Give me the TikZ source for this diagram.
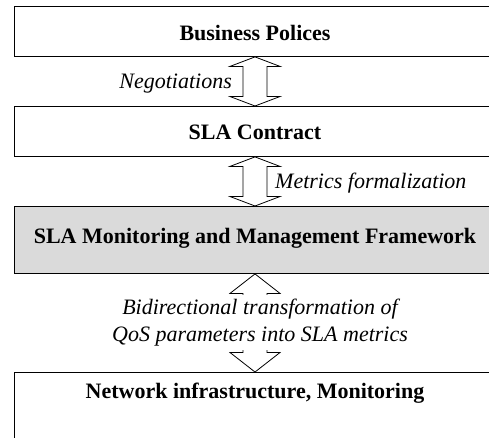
\documentclass[tikz,border=0pt]{standalone}
\usepackage{fontspec}
\setmainfont{Liberation Serif}
\usetikzlibrary{calc}
\definecolor{framegray}{HTML}{DADADA}

% double block arrow from tip #1 (top) to tip #2 (bottom), head length #3
\newcommand\blockarrow[3]{%
  \draw[arrowline] (#1) -- ++(25,#3) -- ++(-13,0) -- ($(#2)+(12,-#3)$) -- ++(13,0)
    -- (#2) -- ++(-25,-#3) -- ++(13,0) -- ($(#1)+(-12,#3)$) -- ++(-13,0) -- cycle;}

\begin{document}
\begin{tikzpicture}[x=1pt,y=-1pt,
  layerbox/.style={draw=black, line width=0.9pt, fill=white, anchor=north,
    minimum width=482pt, inner sep=0pt,
    font=\fontsize{22}{26}\selectfont\bfseries},
  arrowline/.style={draw=black, line width=0.8pt, fill=white, line join=miter},
  note/.style={font=\fontsize{22}{27}\selectfont\itshape, inner sep=0pt}]
\useasboundingbox (0,0) rectangle (489,437);
\clip (0,0) rectangle (489,437);

% layers (their right side runs past the frame)
\node[layerbox, text height=34pt, text depth=16pt] (pol) at (255,6) {Business Polices};
\node[layerbox, text height=33pt, text depth=17pt] (sla) at (255,106) {SLA Contract};
\node[layerbox, fill=framegray, text height=37pt, text depth=30pt] (fw) at (255,206)
  {SLA Monitoring and Management Framework};
\node[layerbox, text height=26pt, text depth=60pt] (net) at (255,372)
  {Network infrastructure, Monitoring};

% block arrows between the layers
\blockarrow{pol.south}{sla.north}{9.5}
\blockarrow{sla.south}{fw.north}{9.5}
\blockarrow{fw.south}{net.north}{19.5}

% arrow labels
\node[note, anchor=base east] (neg) at (232,88) {Negotiations};
\node[note, anchor=base west] (met) at (275,188) {Metrics formalization};
\node[note, align=center, fill=white, inner xsep=3pt, minimum height=55pt]
  (qos) at (260,322.5) {Bidirectional transformation of\\QoS parameters into SLA metrics};
\end{tikzpicture}
\end{document}
